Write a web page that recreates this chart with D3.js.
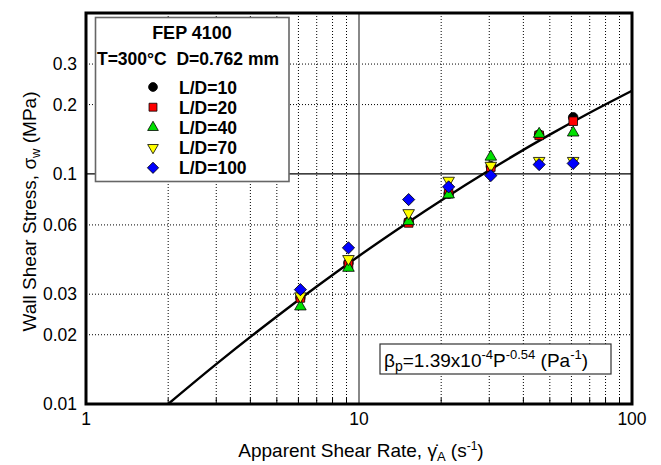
<!DOCTYPE html>
<html>
<head>
<meta charset="utf-8">
<script src="https://cdn.jsdelivr.net/npm/d3@7"></script>
<style>
  body { margin: 0; background: #fff; }
  svg { display: block; font-family: "Liberation Sans", Arial, Helvetica, sans-serif; }
</style>
</head>
<body>
<div class="svg-canvas"></div>
<script>
// Apparent shear rate (s^-1) for each run
var rates = [6.1, 9.15, 15.2, 21.3, 30.4, 45.7, 60.9];

// Wall shear stress (MPa), one array per L/D
var ld10  = [0.029, 0.041, 0.062, 0.082, 0.108, 0.148, 0.176];
var ld20  = [0.0289, 0.0403, 0.0612, 0.082, 0.107, 0.147, 0.1694];
var ld40  = [0.0265, 0.039, 0.0622, 0.0813, 0.1186, 0.149, 0.151];
var ld70  = [0.0294, 0.0427, 0.0676, 0.0935, 0.1086, 0.114, 0.114];
var ld100 = [0.0314, 0.0477, 0.0773, 0.0878, 0.0983, 0.1097, 0.111];

// Fitted curve
var fitRate   = [2, 3, 5, 7, 10, 15, 20, 30, 50, 70, 100];
var fitStress = [0.0100, 0.0149, 0.0240, 0.0324, 0.0440, 0.0612, 0.0766, 0.1036, 0.1481, 0.1844, 0.2298];

// Axis ticks
var xTickVals = [1, 10, 100];
var yTickVals = [0.01, 0.02, 0.03, 0.06, 0.1, 0.2, 0.3];
var xGridVals = [2, 3, 4, 5, 6, 7, 8, 9, 20, 30, 40, 50, 60, 70, 80, 90];
var yGridVals = [0.02, 0.03, 0.06, 0.2, 0.3];

var seriesNames = ["L/D=10", "L/D=20", "L/D=40", "L/D=70", "L/D=100"];

// Canvas
var ch = {};
ch.margin = { top: 13, left: 86, right: 29, bottom: 61 };
ch.width = 661 - ch.margin.left - ch.margin.right;
ch.height = 465 - ch.margin.top - ch.margin.bottom;

var svg = d3.select("body").select(".svg-canvas").append("svg")
    .attr("width", 661)
    .attr("height", 465);

var g = svg.append("g")
    .attr("transform", "translate(" + ch.margin.left + "," + ch.margin.top + ")");

var x = d3.scaleLog().domain([1, 100]).range([0, ch.width]);
var y = d3.scaleLog().domain([0.01, 0.5]).range([ch.height, 0]);

// dotted grid
g.selectAll(".xgrid").data(xGridVals).enter().append("line")
    .attr("x1", function(d){ return x(d); })
    .attr("x2", function(d){ return x(d); })
    .attr("y1", 0).attr("y2", ch.height)
    .attr("stroke", "#000").attr("stroke-width", 1)
    .attr("stroke-dasharray", "1,2");

g.selectAll(".ygrid").data(yGridVals).enter().append("line")
    .attr("x1", 0).attr("x2", ch.width)
    .attr("y1", function(d){ return y(d); })
    .attr("y2", function(d){ return y(d); })
    .attr("stroke", "#000").attr("stroke-width", 1)
    .attr("stroke-dasharray", "1,2");

// minor ticks on bottom axis
g.selectAll(".xtick").data(xGridVals).enter().append("line")
    .attr("x1", function(d){ return x(d); })
    .attr("x2", function(d){ return x(d); })
    .attr("y1", ch.height).attr("y2", ch.height - 6)
    .attr("stroke", "#000").attr("stroke-width", 1);

// solid lines at 10 and 0.1
g.append("line")
    .attr("x1", x(10)).attr("x2", x(10))
    .attr("y1", 0).attr("y2", ch.height)
    .attr("stroke", "#888").attr("stroke-width", 2);
g.append("line")
    .attr("x1", 0).attr("x2", ch.width)
    .attr("y1", y(0.1)).attr("y2", y(0.1))
    .attr("stroke", "#000").attr("stroke-width", 1.2);

// fit line
var line = d3.line()
    .x(function(d, i){ return x(fitRate[i]); })
    .y(function(d){ return y(d); })
    .curve(d3.curveMonotoneX);
g.append("path")
    .datum(fitStress)
    .attr("d", line)
    .attr("fill", "none")
    .attr("stroke", "#000")
    .attr("stroke-width", 2.4);

// markers
var markers = [
    { data: ld10,  type: d3.symbolCircle,   size: 72, rot: 0,   fill: "#000" },
    { data: ld20,  type: d3.symbolSquare,   size: 74, rot: 0,   fill: "#ff0000" },
    { data: ld40,  type: d3.symbolTriangle, size: 58, rot: 0,   fill: "#00e000" },
    { data: ld70,  type: d3.symbolTriangle, size: 58, rot: 180, fill: "#ffff00" },
    { data: ld100, type: d3.symbolSquare,   size: 74, rot: 45,  fill: "#0000ff" }
];

markers.forEach(function(m){
    g.selectAll(null).data(m.data).enter().append("path")
        .attr("d", d3.symbol().type(m.type).size(m.size))
        .attr("transform", function(d, i){
            return "translate(" + x(rates[i]) + "," + y(d) + ") rotate(" + m.rot + ")";
        })
        .attr("fill", m.fill)
        .attr("stroke", "#000")
        .attr("stroke-width", 0.8);
});

// frame
g.append("rect")
    .attr("x", 0).attr("y", 0)
    .attr("width", ch.width).attr("height", ch.height)
    .attr("fill", "none")
    .attr("stroke", "#000")
    .attr("stroke-width", 3);

// tick labels
g.selectAll(".xlab").data(xTickVals).enter().append("text")
    .attr("x", function(d){ return x(d); })
    .attr("y", ch.height + 21)
    .attr("text-anchor", "middle")
    .attr("font-size", 17.5)
    .text(function(d){ return d; });

g.selectAll(".ylab").data(yTickVals).enter().append("text")
    .attr("x", -9)
    .attr("y", function(d){ return y(d) + 6; })
    .attr("text-anchor", "end")
    .attr("font-size", 17.5)
    .text(function(d){ return d; });

// axis titles
var xt = svg.append("text")
    .attr("x", ch.margin.left + ch.width / 2 + 2)
    .attr("y", 457)
    .attr("text-anchor", "middle")
    .attr("font-size", 19);
xt.append("tspan").text("Apparent Shear Rate, \u03B3\u0307");
xt.append("tspan").attr("font-size", 13).attr("dy", 4).text("A");
xt.append("tspan").attr("dy", -4).text(" (s");
xt.append("tspan").attr("font-size", 12).attr("dy", -7).text("-1");
xt.append("tspan").attr("dy", 7).text(")");

var yt = svg.append("text")
    .attr("transform", "translate(36," + (ch.margin.top + ch.height / 2 + 3) + ") rotate(-90)")
    .attr("text-anchor", "middle")
    .attr("font-size", 19);
yt.append("tspan").text("Wall Shear Stress, \u03C3");
yt.append("tspan").attr("font-size", 13).attr("dy", 4).text("w");
yt.append("tspan").attr("dy", -4).text(" (MPa)");

// legend box
var lg = svg.append("g");
lg.append("rect")
    .attr("x", 95.5).attr("y", 17.5)
    .attr("width", 193.5).attr("height", 164)
    .attr("fill", "#fff")
    .attr("stroke", "#666")
    .attr("stroke-width", 1.6);
lg.append("text")
    .attr("x", 192).attr("y", 39)
    .attr("text-anchor", "middle")
    .attr("font-size", 18).attr("font-weight", "bold")
    .text("FEP 4100");
lg.append("text")
    .attr("x", 188).attr("y", 65)
    .attr("text-anchor", "middle")
    .attr("font-size", 17.5).attr("font-weight", "bold")
    .attr("xml:space", "preserve")
    .text("T=300\u00B0C  D=0.762 mm");

markers.forEach(function(m, i){
    var cy = 87 + i * 20.2;
    lg.append("path")
        .attr("d", d3.symbol().type(m.type).size(m.size * 0.85))
        .attr("transform", "translate(153," + cy + ") rotate(" + m.rot + ")")
        .attr("fill", m.fill)
        .attr("stroke", "#000")
        .attr("stroke-width", 0.8);
    lg.append("text")
        .attr("x", 179).attr("y", cy + 6.5)
        .attr("font-size", 17.5).attr("font-weight", "bold")
        .text(seriesNames[i]);
});

// annotation box
var ab = svg.append("g");
ab.append("rect")
    .attr("x", 380).attr("y", 344)
    .attr("width", 231).attr("height", 30)
    .attr("fill", "#fff")
    .attr("stroke", "#333")
    .attr("stroke-width", 1.2);
var at = ab.append("text")
    .attr("x", 384).attr("y", 367)
    .attr("font-size", 19);
at.append("tspan").text("\u03B2");
at.append("tspan").attr("font-size", 14).attr("dy", 4).text("p");
at.append("tspan").attr("dy", -4).text("=1.39x10");
at.append("tspan").attr("font-size", 13).attr("dy", -8).text("-4");
at.append("tspan").attr("dy", 8).text("P");
at.append("tspan").attr("font-size", 13).attr("dy", -8).text("-0.54");
at.append("tspan").attr("dy", 8).attr("xml:space", "preserve").text(" (Pa");
at.append("tspan").attr("font-size", 13).attr("dy", -8).text("-1");
at.append("tspan").attr("dy", 8).text(")");
</script>
</body>
</html>
